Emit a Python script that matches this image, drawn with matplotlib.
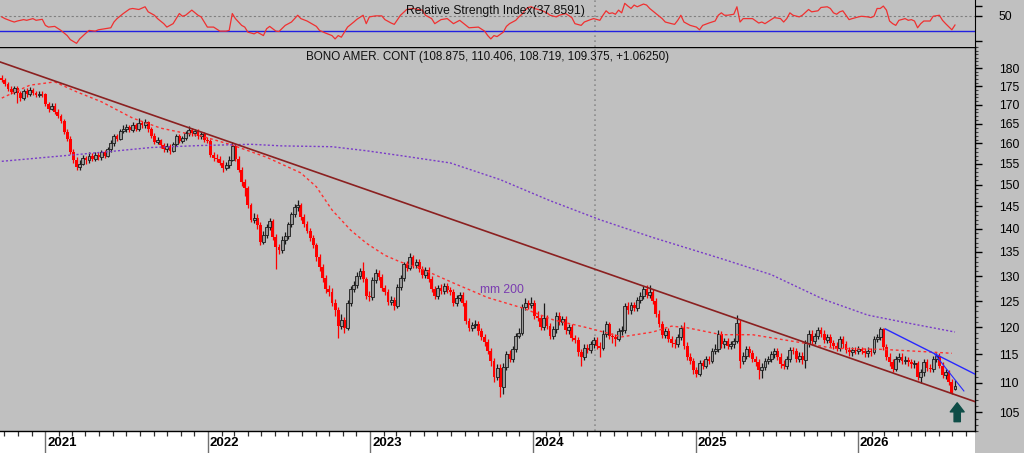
import matplotlib

matplotlib.use("Agg")
import matplotlib.dates as mdates
import matplotlib.pyplot as plt
import matplotlib.ticker as mticker
import matplotlib.transforms as mtransforms
import numpy as np
import pandas as pd
from matplotlib.patches import Rectangle

plt.rcParams["font.family"] = ["Liberation Sans", "DejaVu Sans"]

# Weekly bars of the continuous T-bond contract (one bar per Friday)
FIRST_WEEK = "2020-09-25"

closes = [
    176.8, 175.6, 174.2, 173.5, 174.4, 173.2, 171.8, 173.6, 172.9, 174.0,
    173.2, 172.6, 173.0, 172.8, 170.2, 169.0, 169.8, 168.2, 167.0, 165.8,
    163.0, 161.2, 158.0, 156.0, 154.2, 155.0, 156.5, 155.8, 157.0, 156.2,
    157.2, 156.6, 157.8, 157.0, 158.6, 160.0, 161.8, 161.2, 163.2, 163.8,
    164.2, 163.4, 164.6, 163.8, 165.2, 164.6, 165.4, 163.6, 162.0, 160.4,
    160.8, 159.6, 158.6, 159.4, 158.2, 159.8, 161.8, 160.6, 161.4, 162.6,
    163.4, 162.6, 163.2, 161.8, 162.4, 161.0, 160.6, 157.2, 156.4, 156.2,
    155.2, 154.0, 154.6, 156.0, 159.4, 156.2, 153.6, 150.6, 149.2, 145.2,
    142.0, 142.4, 140.8, 137.2, 138.6, 140.4, 141.8, 138.2, 136.0, 135.4,
    137.6, 138.4, 141.0, 143.2, 144.8, 145.4, 142.6, 141.0, 139.6, 138.0,
    136.4, 134.0, 131.8, 129.6, 127.4, 126.8, 124.6, 123.2, 120.2, 121.4,
    119.8, 124.6, 127.4, 128.2, 130.0, 131.0, 129.4, 126.0, 125.8, 129.2,
    130.6, 129.8, 127.6, 126.8, 124.8, 125.2, 124.0, 127.8, 129.6, 132.4,
    131.6, 134.0, 132.2, 133.0, 131.4, 130.2, 131.2, 129.4, 127.4, 126.0,
    127.6, 127.0, 128.0, 127.2, 126.8, 124.6, 125.6, 126.2, 124.6, 121.2,
    119.8, 120.4, 120.6, 119.2, 118.2, 117.2, 115.6, 113.8, 111.0, 112.6,
    109.2, 112.8, 115.0, 114.2, 116.0, 118.4, 119.0, 123.8, 124.6, 124.2,
    124.6, 122.2, 121.8, 120.0, 121.8, 120.2, 118.4, 119.6, 122.2, 121.0,
    121.6, 119.4, 120.0, 118.0, 117.6, 115.4, 114.6, 116.2, 115.8, 116.8,
    117.6, 116.6, 116.2, 118.8, 120.6, 118.4, 118.2, 117.8, 119.2, 119.4,
    124.0, 123.2, 124.2, 123.6, 125.2, 126.0, 127.4, 126.2, 126.8, 125.0,
    122.6, 120.6, 118.6, 119.2, 117.8, 117.0, 116.8, 118.2, 119.8, 116.6,
    114.6, 113.8, 112.2, 111.6, 113.4, 113.0, 114.2, 113.8, 115.6, 116.0,
    118.8, 116.8, 117.4, 116.6, 116.8, 117.4, 120.8, 113.8, 114.8, 116.0,
    115.2, 114.2, 113.6, 112.2, 112.8, 113.8, 114.2, 115.0, 115.6, 114.6,
    113.2, 113.0, 114.2, 115.8, 115.6, 114.2, 114.8, 114.0, 117.0, 118.8,
    117.4, 118.4, 119.4, 118.8, 117.6, 118.2, 117.0, 116.6, 116.2, 117.8,
    116.8, 115.8, 115.4, 115.8, 115.6, 115.9, 115.6, 115.2, 115.7, 115.4,
    117.8, 118.2, 119.6, 116.4, 114.6, 113.6, 112.4, 114.2, 114.6, 113.8,
    114.0, 113.6, 113.2, 113.4, 111.0, 111.8, 113.6, 112.6, 112.4, 114.2,
    114.8, 113.0, 111.4, 111.8, 110.2, 108.3125, 109.375,
]

opens = [
    177.4, 176.8, 175.6, 174.2, 173.5, 174.4, 173.2, 171.8, 173.6, 172.9,
    174.0, 173.2, 172.6, 173.0, 172.8, 170.2, 169.0, 169.8, 168.2, 167.0,
    165.8, 163.0, 161.2, 158.0, 156.0, 154.2, 155.0, 156.5, 155.8, 157.0,
    156.2, 157.2, 156.6, 157.8, 157.0, 158.6, 160.0, 161.8, 161.2, 163.2,
    163.8, 164.2, 163.4, 164.6, 163.8, 165.2, 164.6, 165.4, 163.6, 162.0,
    160.4, 160.8, 159.6, 158.6, 159.4, 158.2, 159.8, 161.8, 160.6, 161.4,
    162.6, 163.4, 162.6, 163.2, 161.8, 162.4, 161.0, 160.6, 157.2, 156.4,
    156.2, 155.2, 154.0, 154.6, 156.0, 159.4, 156.2, 153.6, 150.6, 149.2,
    145.2, 142.0, 142.4, 140.8, 137.2, 138.6, 140.4, 141.8, 138.2, 136.0,
    135.4, 137.6, 138.4, 141.0, 143.2, 144.8, 145.4, 142.6, 141.0, 139.6,
    138.0, 136.4, 134.0, 131.8, 129.6, 127.4, 126.8, 124.6, 123.2, 120.2,
    121.4, 119.8, 124.6, 127.4, 128.2, 130.0, 131.0, 129.4, 126.0, 125.8,
    129.2, 130.6, 129.8, 127.6, 126.8, 124.8, 125.2, 124.0, 127.8, 129.6,
    132.4, 131.6, 134.0, 132.2, 133.0, 131.4, 130.2, 131.2, 129.4, 127.4,
    126.0, 127.6, 127.0, 128.0, 127.2, 126.8, 124.6, 125.6, 126.2, 124.6,
    121.2, 119.8, 120.4, 120.6, 119.2, 118.2, 117.2, 115.6, 113.8, 111.0,
    112.6, 109.2, 112.8, 115.0, 114.2, 116.0, 118.4, 119.0, 123.8, 124.6,
    124.2, 124.6, 122.2, 121.8, 120.0, 121.8, 120.2, 118.4, 119.6, 122.2,
    121.0, 121.6, 119.4, 120.0, 118.0, 117.6, 115.4, 114.6, 116.2, 115.8,
    116.8, 117.6, 116.6, 116.2, 118.8, 120.6, 118.4, 118.2, 117.8, 119.2,
    119.4, 124.0, 123.2, 124.2, 123.6, 125.2, 126.0, 127.4, 126.2, 126.8,
    125.0, 122.6, 120.6, 118.6, 119.2, 117.8, 117.0, 116.8, 118.2, 119.8,
    116.6, 114.6, 113.8, 112.2, 111.6, 113.4, 113.0, 114.2, 113.8, 115.6,
    116.0, 118.8, 116.8, 117.4, 116.6, 116.8, 117.4, 120.8, 113.8, 114.8,
    116.0, 115.2, 114.2, 113.6, 112.2, 112.8, 113.8, 114.2, 115.0, 115.6,
    114.6, 113.2, 113.0, 114.2, 115.8, 115.6, 114.2, 114.8, 114.0, 117.0,
    118.8, 117.4, 118.4, 119.4, 118.8, 117.6, 118.2, 117.0, 116.6, 116.2,
    117.8, 116.8, 115.8, 115.4, 115.8, 115.6, 115.9, 115.6, 115.2, 115.7,
    115.4, 117.8, 118.2, 119.6, 116.4, 114.6, 113.6, 112.4, 114.2, 114.6,
    113.8, 114.0, 113.6, 113.2, 113.4, 111.0, 111.8, 113.6, 112.6, 112.4,
    114.2, 114.8, 113.0, 111.4, 111.8, 110.2, 108.875,
]

highs = [
    178.0, 177.4, 176.2, 175.0, 175.2, 175.0, 173.8, 174.2, 174.4, 174.8,
    174.6, 173.8, 173.6, 173.6, 173.2, 170.8, 170.6, 170.4, 168.8, 167.6,
    166.2, 163.6, 161.8, 158.6, 156.6, 155.8, 157.2, 157.0, 157.8, 157.6,
    158.0, 157.8, 158.4, 158.4, 159.2, 160.8, 162.4, 162.4, 163.8, 164.6,
    165.0, 164.8, 165.6, 165.2, 166.4, 165.8, 166.2, 165.8, 164.2, 162.6,
    161.6, 161.2, 160.2, 160.0, 159.8, 160.4, 162.4, 162.4, 162.0, 163.2,
    164.4, 164.0, 163.8, 163.8, 163.0, 163.0, 161.6, 161.2, 158.0, 157.4,
    156.8, 155.8, 155.4, 156.8, 160.4, 159.8, 156.8, 154.2, 151.4, 149.8,
    145.8, 143.6, 143.2, 141.4, 139.6, 141.0, 142.4, 142.2, 138.8, 136.6,
    138.4, 139.4, 141.6, 143.8, 145.6, 146.4, 145.8, 143.2, 141.8, 140.2,
    138.6, 137.0, 134.6, 132.4, 130.2, 128.2, 127.6, 125.4, 123.8, 122.6,
    122.0, 125.2, 128.0, 129.0, 130.8, 131.6, 132.8, 129.8, 127.0, 129.8,
    131.4, 131.2, 130.4, 128.2, 127.4, 126.0, 125.8, 128.4, 130.2, 133.0,
    133.2, 134.8, 134.4, 133.6, 133.6, 132.0, 131.8, 131.8, 130.0, 128.0,
    128.2, 128.4, 128.6, 128.6, 127.8, 127.4, 126.2, 126.8, 126.8, 125.2,
    121.8, 121.0, 121.4, 121.2, 119.8, 118.8, 117.8, 116.2, 114.4, 113.2,
    113.2, 113.4, 115.6, 115.8, 116.6, 119.0, 119.8, 124.4, 125.6, 125.2,
    125.8, 125.2, 123.0, 122.4, 124.6, 122.4, 120.8, 120.2, 122.8, 122.8,
    122.2, 122.2, 120.6, 120.6, 118.6, 118.2, 116.0, 116.8, 116.8, 117.4,
    118.2, 118.2, 117.2, 119.4, 121.2, 121.0, 119.0, 118.8, 119.8, 120.2,
    124.6, 124.8, 124.8, 124.8, 125.8, 126.8, 128.0, 128.2, 128.3, 127.4,
    125.6, 123.2, 121.2, 119.8, 119.8, 118.4, 117.8, 118.8, 120.4, 121.0,
    117.2, 115.2, 114.4, 112.8, 114.0, 114.0, 114.8, 114.8, 116.2, 116.8,
    119.4, 119.2, 118.0, 118.0, 117.4, 118.0, 122.4, 121.4, 115.4, 116.6,
    116.6, 115.8, 114.8, 114.2, 113.4, 114.4, 114.8, 115.6, 116.2, 116.2,
    115.2, 114.0, 114.8, 116.4, 116.4, 116.2, 115.4, 115.4, 117.6, 119.4,
    119.4, 119.0, 120.0, 120.0, 119.4, 118.8, 118.8, 117.6, 117.2, 118.4,
    118.4, 117.4, 116.4, 116.4, 116.4, 116.6, 116.4, 116.2, 116.4, 116.2,
    118.4, 118.8, 120.0, 119.8, 116.8, 115.2, 114.2, 114.8, 115.2, 115.2,
    114.8, 114.6, 114.2, 114.0, 113.8, 112.4, 114.2, 114.2, 113.2, 114.8,
    115.2, 115.2, 113.6, 112.4, 112.2, 110.6, 110.406,
]

lows = [
    176.2, 175.0, 173.6, 172.8, 173.0, 170.6, 171.0, 171.2, 172.2, 172.4,
    172.6, 172.0, 172.0, 172.2, 169.8, 168.2, 168.6, 167.6, 166.4, 165.2,
    162.4, 160.6, 157.4, 155.2, 153.4, 153.6, 154.6, 155.0, 155.2, 155.6,
    155.6, 156.0, 156.0, 156.4, 156.6, 158.0, 159.4, 160.6, 160.8, 162.6,
    163.0, 162.8, 162.8, 163.2, 163.2, 164.0, 164.0, 163.0, 161.4, 159.8,
    159.8, 159.0, 158.0, 158.0, 157.4, 157.8, 159.4, 160.0, 160.2, 161.0,
    162.0, 162.0, 162.0, 161.2, 161.2, 160.4, 160.0, 156.6, 155.6, 155.4,
    154.6, 153.0, 153.4, 154.0, 155.6, 155.6, 153.0, 149.6, 147.4, 144.6,
    141.4, 141.2, 140.0, 136.4, 136.6, 138.0, 139.8, 137.6, 131.4, 134.6,
    134.8, 136.8, 137.8, 140.4, 142.6, 144.0, 142.0, 140.4, 139.0, 137.4,
    135.8, 133.2, 131.0, 128.8, 126.6, 126.0, 124.0, 122.2, 118.0, 119.6,
    119.0, 119.4, 124.0, 126.8, 127.6, 129.4, 128.8, 125.4, 125.0, 125.2,
    128.6, 129.2, 127.0, 126.2, 124.2, 124.2, 123.2, 123.6, 127.2, 129.0,
    131.0, 131.2, 131.6, 131.6, 130.8, 129.6, 129.6, 128.8, 126.8, 125.4,
    125.4, 126.4, 126.4, 126.6, 126.2, 124.0, 124.0, 125.0, 124.0, 120.6,
    119.2, 119.2, 119.8, 118.6, 117.6, 116.6, 115.0, 113.0, 110.2, 110.4,
    107.6, 108.0, 112.2, 113.6, 113.6, 115.4, 118.0, 118.6, 123.2, 123.4,
    123.6, 121.6, 121.2, 119.4, 119.4, 119.6, 117.8, 117.8, 119.0, 120.4,
    120.4, 118.8, 118.8, 117.4, 117.0, 114.8, 113.0, 114.0, 115.2, 115.2,
    116.2, 116.0, 114.6, 115.8, 118.2, 117.8, 117.0, 116.6, 117.4, 118.6,
    119.0, 122.6, 122.6, 123.0, 123.0, 124.6, 125.4, 125.6, 125.6, 124.4,
    122.0, 120.0, 118.0, 118.0, 117.2, 116.4, 116.2, 116.4, 117.6, 116.0,
    114.0, 113.2, 111.6, 111.0, 111.2, 112.4, 112.6, 113.2, 113.4, 115.0,
    115.4, 116.2, 116.2, 116.0, 116.0, 116.2, 117.0, 112.6, 113.2, 114.2,
    114.6, 113.6, 113.0, 110.6, 110.8, 112.2, 113.2, 113.6, 114.4, 114.0,
    112.6, 112.4, 112.4, 113.6, 115.0, 113.6, 113.6, 113.2, 112.6, 116.4,
    116.8, 116.8, 117.8, 118.2, 117.0, 117.0, 116.4, 116.0, 115.6, 115.6,
    116.2, 115.2, 114.8, 114.8, 115.0, 115.0, 115.0, 114.6, 114.6, 114.8,
    115.0, 117.2, 117.6, 115.8, 114.0, 113.0, 111.8, 112.0, 113.6, 113.2,
    113.2, 113.0, 112.6, 112.6, 110.4, 110.0, 111.2, 112.0, 111.8, 111.8,
    113.6, 112.6, 110.8, 110.6, 109.6, 108.0, 108.719,
]

# Moving averages, read at a few bars (bar index -> value)
ma_fast_week = [0, 9, 17, 24, 32, 42, 51, 57, 64, 74, 85, 96, 101, 106, 112, 117,
                123, 128, 134, 145, 156, 167, 177, 188, 199, 209, 215, 220, 231,
                241, 257, 267, 283, 299, 305]
ma_fast_value = [171.8, 175.3, 176.2, 173.5, 170.8, 166.5, 163.9, 162.9, 161.9,
                 159.6, 156.6, 152.8, 149.5, 144.2, 139.7, 136.9, 134.3, 132.9,
                 131.7, 128.6, 125.7, 123.7, 121.4, 119.9, 118.2, 119.1, 120.2,
                 119.9, 118.6, 118.6, 117.1, 116.1, 115.9, 115.4, 115.2]

ma200_week = [0, 32, 48, 64, 80, 90, 106, 117, 128, 144, 160, 176, 192, 209, 231,
              247, 264, 278, 289, 306]
ma200_value = [155.6, 157.8, 159.0, 159.5, 159.8, 159.4, 159.2, 158.2, 157.0, 155.2,
               151.2, 146.3, 142.0, 138.1, 133.6, 130.3, 125.3, 122.3, 121.0, 119.1]

# RSI, read at bar index
rsi_week = [
    0, 1, 3, 4, 5, 7, 8, 10, 11, 13, 14, 15, 17, 19, 21, 22, 24, 25, 27, 28,
    30, 31, 33, 35, 36, 37, 39, 41, 42, 44, 46, 47, 49, 50, 52, 53, 55, 56, 57, 58,
    59, 61, 63, 64, 66, 68, 70, 72, 73, 74, 75, 77, 78, 79, 81, 82, 84, 85, 86, 88,
    89, 91, 93, 95, 96, 98, 101, 102, 104, 106, 107, 108, 109, 111, 113, 114, 116,
    117, 118, 120, 122, 123, 125, 126, 128, 130, 132, 135, 136, 138, 139, 141, 143,
    145, 147, 150, 153, 155, 156, 157, 158, 159, 161, 162, 163, 164, 165, 166, 167,
    168, 169, 170, 171, 173, 175, 176, 178, 179, 181, 183, 184, 186, 187, 189, 190,
    192, 193, 194, 195, 196, 197, 198, 199, 200, 201, 202, 203, 204, 206, 207, 208,
    210, 212, 213, 215, 216, 217, 218, 219, 221, 223, 224, 225, 227, 229, 230, 231,
    232, 233, 235, 236, 237, 238, 241, 243, 244, 245, 247, 248, 250, 251, 252, 253,
    254, 256, 257, 259, 260, 262, 263, 265, 266, 267, 268, 269, 270, 272, 273, 275,
    276, 278, 279, 280, 281, 282, 283, 284, 285, 286, 287, 288, 290, 291, 292, 293,
    294, 295, 296, 298, 299, 301, 302, 303, 305, 306,
]
rsi_value = [
    48.3, 46.1, 43.0, 41.7, 43.0, 44.8, 43.9, 46.1, 43.9, 45.2, 37.4, 35.2, 36.1, 30.9,
    24.3, 19.1, 14.3, 20.0, 27.4, 30.9, 30.0, 31.7, 33.0, 34.3, 41.7, 46.1, 52.6, 58.3,
    59.1, 57.8, 61.3, 54.8, 50.4, 46.1, 39.6, 35.2, 39.6, 46.1, 52.6, 49.1, 50.4, 57.0,
    50.4, 48.3, 35.2, 35.2, 30.0, 30.0, 30.9, 52.6, 46.1, 37.4, 35.2, 28.7, 26.5, 28.7,
    24.3, 33.0, 36.1, 30.0, 29.6, 37.4, 41.7, 50.4, 46.1, 43.0, 36.1, 30.9, 27.4, 24.3,
    20.0, 24.3, 22.2, 35.2, 41.7, 45.2, 50.4, 39.6, 48.3, 49.6, 49.6, 44.8, 40.4, 38.7,
    50.4, 57.8, 59.1, 57.0, 50.4, 46.1, 39.6, 44.8, 46.1, 39.6, 43.9, 34.3, 35.2, 30.0,
    24.3, 20.0, 24.3, 23.0, 28.7, 36.1, 39.6, 41.7, 43.9, 48.3, 51.7, 57.0, 60.4, 61.3,
    59.1, 57.0, 53.5, 50.4, 48.3, 50.4, 52.6, 47.4, 39.6, 37.4, 41.7, 44.8, 46.1, 43.9,
    50.4, 56.1, 52.6, 53.5, 51.7, 57.0, 53.5, 65.7, 62.2, 59.1, 63.5, 61.3, 64.8, 63.5,
    59.1, 52.6, 46.1, 41.7, 39.6, 38.7, 43.9, 50.4, 41.7, 37.4, 35.2, 31.7, 37.4, 40.4,
    43.0, 50.4, 53.5, 50.4, 50.4, 51.7, 61.3, 41.7, 46.1, 46.1, 40.4, 41.7, 39.6, 44.8,
    47.4, 46.1, 41.7, 46.1, 53.5, 50.4, 48.3, 50.4, 57.8, 54.8, 56.1, 60.4, 61.3, 59.1,
    53.5, 51.7, 54.8, 56.1, 44.8, 46.1, 48.3, 49.1, 48.3, 47.4, 49.1, 59.1, 59.1, 62.2,
    57.0, 43.0, 39.6, 37.4, 43.9, 46.1, 43.9, 44.8, 43.0, 34.3, 39.6, 43.0, 43.0, 49.1,
    50.4, 43.9, 39.6, 31.7, 37.86,
]

# Hand-drawn lines on the chart
trend_dates = ["2020-09-21", "2026-09-21"]
trend_prices = [181.8, 106.8]
blue_a_dates = ["2026-03-03", "2026-09-21"]
blue_a_prices = [119.7, 111.5]
blue_b_dates = ["2026-06-23", "2026-08-27"]
blue_b_prices = [115.0, 108.6]
arrow_date = "2026-08-12"
arrow_prices = [103.5, 106.6]
cursor_date = "2024-05-21"
ma200_label = ("2023-09-05", 127.2, "mm 200")

TITLE = "BONO AMER. CONT (108.875, 110.406, 108.719, 109.375, +1.06250)"
RSI_TITLE = "Relative Strength Index(37.8591)"

BG = "#c0c0c0"
RED = "#ff0000"


def to_num(dates):
    return mdates.date2num(pd.to_datetime(dates).to_pydatetime())


def main():
    fig = plt.figure(figsize=(10.24, 4.53), dpi=100, facecolor=BG)
    fig.patches.append(Rectangle((0, 0), 975 / 1024, 22 / 453, transform=fig.transFigure,
                                 facecolor="white", edgecolor="none", zorder=-1))

    ax = fig.add_axes([0, 22 / 453, 975 / 1024, 384 / 453], facecolor=BG)
    ax_rsi = fig.add_axes([0, 406.3 / 453, 975 / 1024, 46.7 / 453], facecolor=BG)

    x = to_num(pd.date_range(FIRST_WEEK, periods=len(closes), freq="7D"))
    o, c, h, l = (np.array(v) for v in (opens, closes, highs, lows))
    up = c >= o
    width = 6.5

    ax.vlines(x[~up], l[~up], h[~up], color=RED, lw=0.9, zorder=2)
    ax.vlines(x[up], l[up], h[up], color="#1a1a1a", lw=0.9, zorder=2)
    ax.bar(x[~up], (o - c)[~up], bottom=c[~up], width=width, color=RED, lw=0, zorder=2)
    ax.bar(x[up], np.maximum((c - o)[up], 0.05), bottom=o[up], width=width,
           facecolor="#9a9a9a", edgecolor="#1a1a1a", lw=0.6, zorder=2)

    ax.plot(x[ma_fast_week], ma_fast_value, color="#ff3030", lw=1.0,
            ls=(0, (2, 2)), zorder=3)
    ax.plot(x[ma200_week], ma200_value, color="#7a3cc8", lw=1.0,
            ls=(0, (1.5, 1.5)), zorder=3)

    ax.plot(to_num(trend_dates), trend_prices, color="#8b2020", lw=1.2, zorder=3)
    ax.plot(to_num(blue_a_dates), blue_a_prices, color="#2828ff", lw=1.0, zorder=3)
    ax.plot(to_num(blue_b_dates), blue_b_prices, color="#2828ff", lw=0.8, zorder=3)

    ax_x = to_num([arrow_date])[0]
    ax.annotate("", xy=(ax_x, arrow_prices[1]), xytext=(ax_x, arrow_prices[0]),
                arrowprops=dict(arrowstyle="simple,head_length=0.65,head_width=1.0,tail_width=0.45",
                                mutation_scale=10, fc="#0e4d47", ec="#0e4d47",
                                shrinkA=0, shrinkB=0), zorder=4)

    lx = to_num([ma200_label[0]])[0]
    ax.text(lx, ma200_label[1], ma200_label[2], color="#7a3cb0", fontsize=8.7,
            ha="left", va="center")

    cx = to_num([cursor_date])[0]
    for a in (ax, ax_rsi):
        a.axvline(cx, color="#8c8c8c", lw=1.2, ls=(0, (1, 2)), zorder=1)

    # main price axis (log scale, right side)
    ax.set_yscale("log")
    ax.set_ylim(102.0, 186.1)
    xlim = to_num(["2020-09-21", "2026-09-21"])
    ax.set_xlim(*xlim)
    ax.yaxis.set_major_locator(mticker.FixedLocator(list(range(105, 185, 5))))
    ax.yaxis.set_major_formatter(mticker.FuncFormatter(lambda v, p: f"{v:.0f}"))
    ax.yaxis.set_minor_locator(mticker.FixedLocator(list(range(102, 187))))
    ax.yaxis.set_minor_formatter(mticker.NullFormatter())
    ax.yaxis.tick_right()
    ax.tick_params(axis="y", which="major", direction="out", length=5, width=1,
                   color="black", pad=12, labelsize=8.7)
    ax.tick_params(axis="y", which="minor", direction="out", length=2.5, width=0.8,
                   color="#404040")

    ax.xaxis.set_major_locator(mdates.YearLocator())
    ax.xaxis.set_minor_locator(mdates.MonthLocator())
    ax.xaxis.set_major_formatter(mticker.NullFormatter())
    ax.tick_params(axis="x", which="major", direction="out", length=16, width=1,
                   color="#707070")
    ax.tick_params(axis="x", which="minor", direction="out", length=3.6, width=0.9,
                   color="#303030")

    ax.spines["left"].set_visible(False)
    for side in ("right", "bottom", "top"):
        ax.spines[side].set_color("black")
        ax.spines[side].set_linewidth(1.0)

    year_trans = mtransforms.blended_transform_factory(ax.transData, ax.transAxes) + \
        mtransforms.ScaledTranslation(2 / 100, -6 / 100, fig.dpi_scale_trans)
    for yr in range(2021, 2027):
        ax.text(to_num([f"{yr}-01-01"])[0], 0, str(yr), transform=year_trans,
                ha="left", va="top", fontsize=9.5, fontweight="bold", clip_on=False)

    ax.text(0.5, 1 - 10 / 384, TITLE, transform=ax.transAxes, ha="center",
            va="center", fontsize=8.4, color="#101010")

    # RSI panel
    ax_rsi.plot(x[rsi_week], rsi_value, color="#f03030", lw=0.9, zorder=3)
    ax_rsi.axhline(50, color="#808080", lw=0.8, ls=(0, (2, 2)), zorder=2)
    ax_rsi.axhline(30, color="#2020e0", lw=1.0, zorder=2)
    ax_rsi.set_ylim(10, 70)
    ax_rsi.set_xlim(*xlim)
    ax_rsi.set_xticks([])
    ax_rsi.yaxis.tick_right()
    ax_rsi.set_yticks([17.8, 50, 62.6])
    ax_rsi.set_yticklabels(["", "50", ""])
    ax_rsi.tick_params(axis="y", direction="out", length=5, width=1, color="black",
                       pad=12, labelsize=8.7)
    for side in ("left", "top", "bottom"):
        ax_rsi.spines[side].set_visible(False)
    ax_rsi.spines["right"].set_color("black")
    ax_rsi.text(495 / 975, 1 - 11 / 46.7, RSI_TITLE, transform=ax_rsi.transAxes,
                ha="center", va="center", fontsize=8.7, color="#101010")

    fig.savefig("out.png", dpi=100, facecolor=BG)


if __name__ == "__main__":
    main()
